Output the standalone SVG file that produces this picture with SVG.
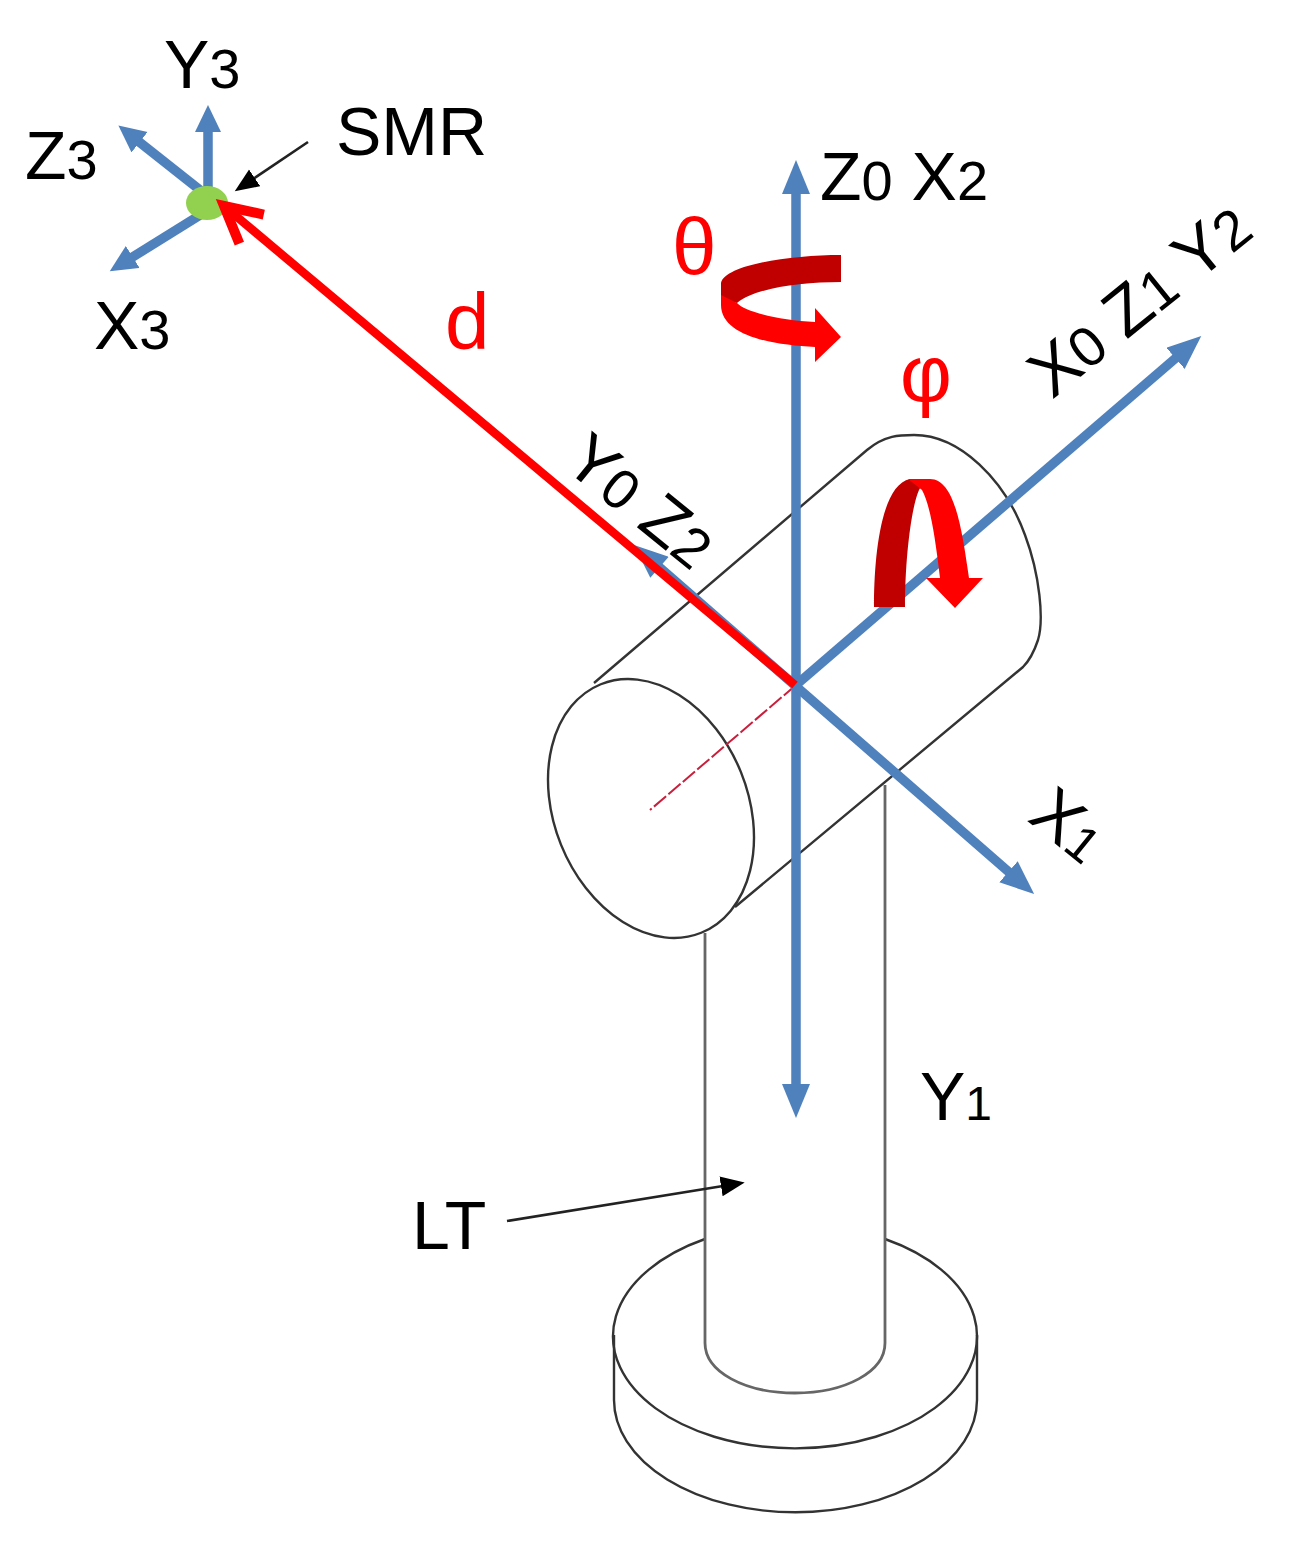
<svg xmlns="http://www.w3.org/2000/svg" width="1290" height="1543" viewBox="0 0 1290 1543">
<style>
text{font-family:"Liberation Sans",Arial,sans-serif;fill:#000;font-size:68px}
.r{fill:#f00;font-size:80px}
.s{font-size:56px}
.o{fill:none;stroke:#333;stroke-width:2.4}
.p{fill:none;stroke:#666;stroke-width:2.8}
.b{stroke:#4f81bd;stroke-width:9.5;fill:none}
.k{stroke:#222;stroke-width:2.6;fill:none}
</style>
<defs>
<marker id="big" markerUnits="userSpaceOnUse" markerWidth="40" markerHeight="32" refX="2" refY="14" orient="auto"><path d="M0,0L34,14L0,28Z" fill="#4f81bd"/></marker>
<marker id="bigs" markerUnits="userSpaceOnUse" markerWidth="40" markerHeight="32" refX="32" refY="14" orient="auto"><path d="M34,0L0,14L34,28Z" fill="#4f81bd"/></marker>
<marker id="sm" markerUnits="userSpaceOnUse" markerWidth="32" markerHeight="30" refX="2" refY="13" orient="auto"><path d="M0,0L27,13L0,26Z" fill="#4f81bd"/></marker>
<marker id="blk" markerUnits="userSpaceOnUse" markerWidth="30" markerHeight="24" refX="2" refY="10" orient="auto"><path d="M0,0L24,10L0,20Z" fill="#000"/></marker>
<marker id="open" markerUnits="userSpaceOnUse" overflow="visible" markerWidth="50" markerHeight="50" refX="5" refY="25" orient="auto"><path d="M-31,6L5,25L-31,44" fill="none" stroke="#f00" stroke-width="10"/></marker>
</defs>
<rect width="1290" height="1543" fill="#fff"/>
<g id="base">
<path class="o" d="M705,1239A182,112 0 1 0 885,1239"/>
<path class="o" d="M614,1335V1400A181,112 0 0 0 977,1400V1335"/>
</g>
<g id="pole"><path class="p" d="M705,933V1343C705,1372 745,1393 795,1393S885,1372 885,1343V785"/></g>
<g id="cylinder">
<ellipse class="o" cx="651" cy="808.500" rx="97" ry="134" transform="rotate(-22 651 808.500)"/>
<path class="o" d="M594,683L867,450C885,435 900,435 914,435C960,435 1005,480 1025,535C1040,575 1044,620 1038,640C1034,652 1028,662 1023,667L735,907"/>
</g>
<g id="connectors">
<line x1="796" y1="685" x2="650" y2="810" stroke="#c8203c" stroke-width="2" stroke-dasharray="16 3"/>
<line class="b" x1="796" y1="1086" x2="796" y2="192" marker-end="url(#big)" marker-start="url(#bigs)"/>
<line class="b" x1="796" y1="685" x2="1177" y2="357" marker-end="url(#big)"/>
<line class="b" x1="658" y1="566" x2="1010" y2="873" marker-end="url(#big)" marker-start="url(#bigs)"/>
<line class="b" x1="208" y1="200" x2="208" y2="130" marker-end="url(#sm)"/>
<line class="b" x1="205" y1="194" x2="138" y2="141" marker-end="url(#sm)"/>
<line class="b" x1="205" y1="212" x2="131" y2="258" marker-end="url(#sm)"/>
<line class="k" x1="308" y1="142" x2="253" y2="179" marker-end="url(#blk)"/>
<line class="k" x1="507" y1="1221" x2="723" y2="1186" marker-end="url(#blk)"/>
</g>
<g id="smr"><ellipse cx="207" cy="203" rx="21" ry="17" fill="#92d050"/></g>
<g id="d-arrow"><line x1="795" y1="685" x2="224" y2="206" stroke="#f00" stroke-width="8.500" marker-end="url(#open)"/></g>
<g id="theta-arrow">
<path fill="#c00000" d="M841,255V282C800,282 755,288 737,303L721,300V283C725,265 790,255 841,255Z"/>
<path fill="#f00" d="M721,295L737,303C745,312 780,320 815,322V308L841,337L815,362V347C770,345 721,335 721,305Z"/>
</g>
<g id="phi-arrow">
<path fill="#c00000" d="M874,607C874,560 880,485 910,479H925L919,490C912,505 905,555 905,607Z"/>
<path fill="#f00" d="M908,479H930C955,479 962,530 969,578H983L955,608L926,578H940C935,535 930,505 922,490Z"/>
</g>
<g id="labels">
<text x="164" y="88">Y<tspan class="s">3</tspan></text>
<text x="25" y="179">Z<tspan class="s">3</tspan></text>
<text x="94" y="349">X<tspan class="s">3</tspan></text>
<text x="336" y="155">SMR</text>
<text class="r" x="445" y="349">d</text>
<text class="r" x="672" y="274">θ</text>
<text class="r" x="900" y="401">φ</text>
<text x="820" y="200">Z<tspan class="s">0</tspan> X<tspan class="s">2</tspan></text>
<text x="920" y="1120">Y<tspan style="font-size:48px">1</tspan></text>
<text x="412" y="1249">LT</text>
<text style="font-size:68px" transform="translate(1052 400) rotate(-39)">X<tspan class="s">0</tspan> Z<tspan class="s">1</tspan> Y<tspan class="s">2</tspan></text>
<text style="font-size:68px" transform="translate(561 466) rotate(39)">Y<tspan class="s">0</tspan> Z<tspan class="s">2</tspan></text>
<text style="font-size:68px" transform="translate(1026 820) rotate(39)">X<tspan class="s" style="font-size:50px">1</tspan></text>
</g>
</svg>
